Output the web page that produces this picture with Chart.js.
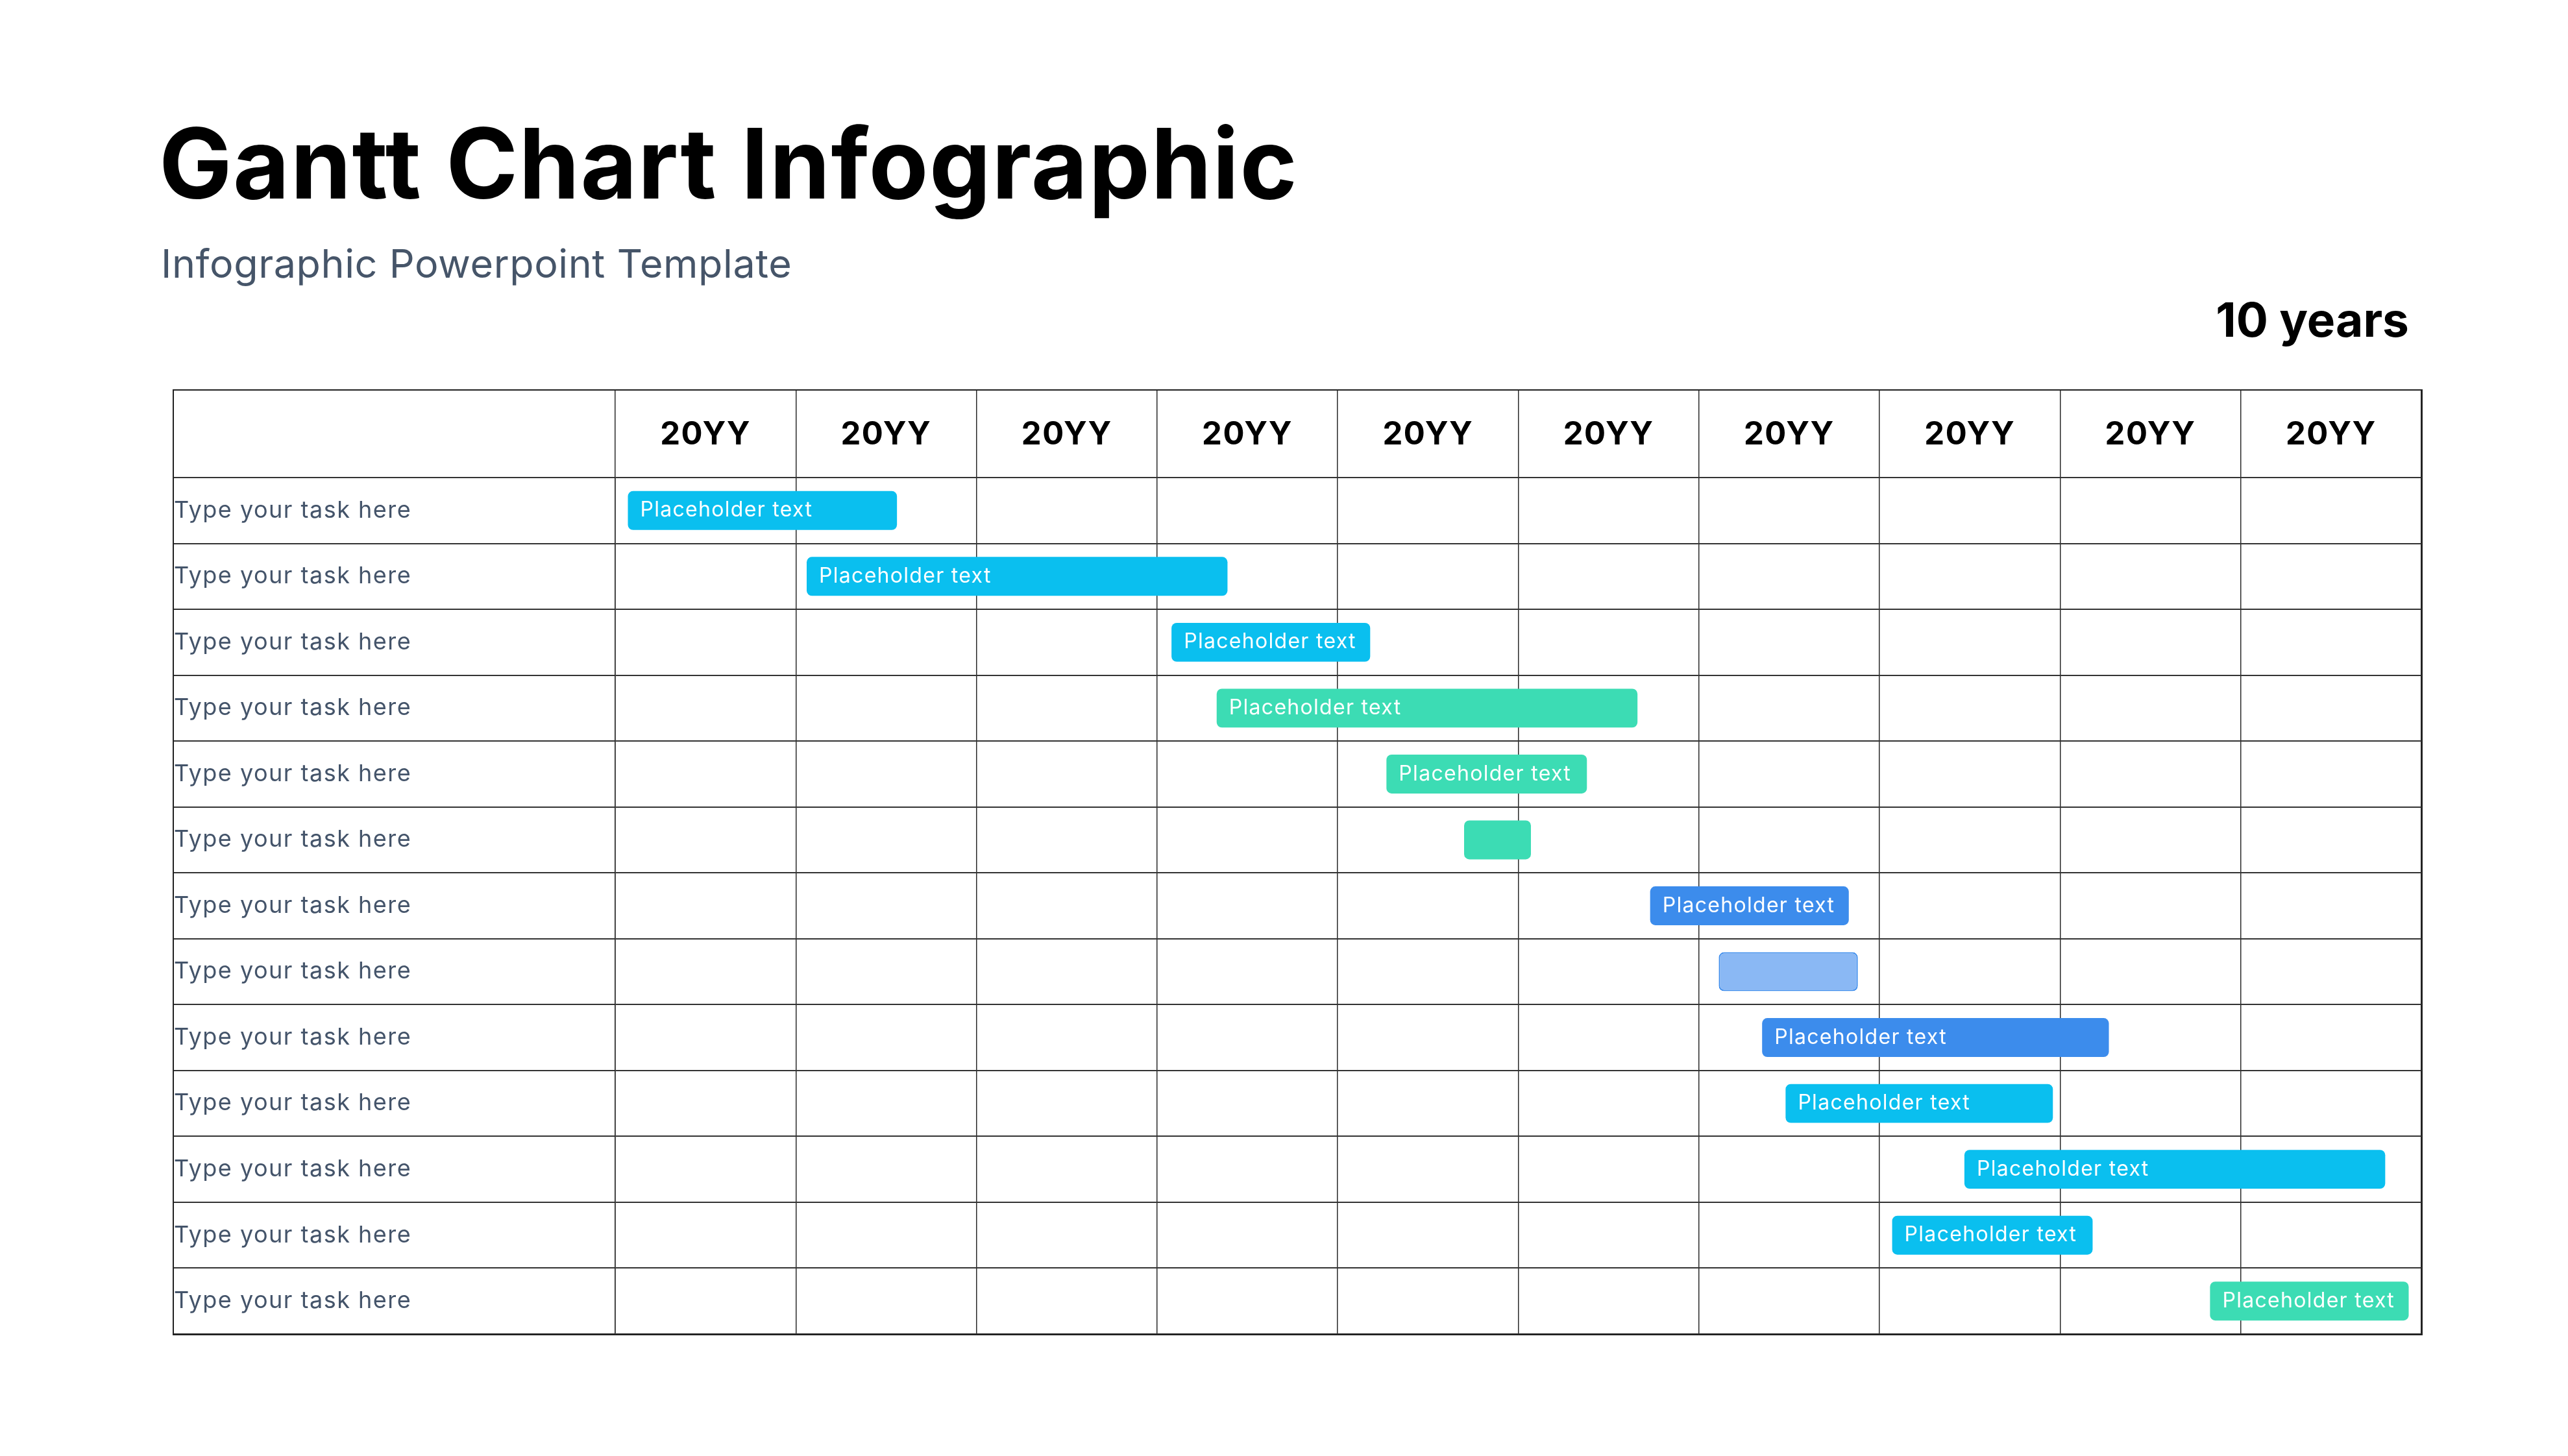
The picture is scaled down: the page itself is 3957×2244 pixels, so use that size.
<!DOCTYPE html>
<html>
<head>
<meta charset="utf-8">
<script src="https://cdn.jsdelivr.net/npm/chart.js@4/dist/chart.umd.min.js"></script>
<style>
  html, body { margin: 0; padding: 0; background: #fff; }
  body { width: 3957px; height: 2244px; position: relative; overflow: hidden; font-family: Inter, sans-serif; }
  .title { position: absolute; left: 245px; top: 177px; font-size: 150px; font-weight: 700; line-height: 1; letter-spacing: 1.5px; color: #000; white-space: nowrap; }
  .subtitle { position: absolute; left: 248px; top: 376px; font-size: 61px; font-weight: 400; line-height: 1; letter-spacing: 0.6px; color: #465569; white-space: nowrap; }
  .span-label { position: absolute; right: 245px; top: 456px; font-size: 73px; font-weight: 700; line-height: 1; color: #000; white-space: nowrap; }
  #wrap { position: absolute; left: 268px; top: 602px; width: 3463px; height: 1454px; outline: 2px solid #222; }
</style>
</head>
<body>
<div class="title">Gantt Chart Infographic</div>
<div class="subtitle">Infographic Powerpoint Template</div>
<div class="span-label">10 years</div>
<div id="wrap"><canvas id="gantt"></canvas></div>
<script>
"use strict";

// rows of the table
const taskLabels = [
  "Type your task here", "Type your task here", "Type your task here",
  "Type your task here", "Type your task here", "Type your task here",
  "Type your task here", "Type your task here", "Type your task here",
  "Type your task here", "Type your task here", "Type your task here",
  "Type your task here"
];

// header columns (one per year)
const yearLabels = ["20YY", "20YY", "20YY", "20YY", "20YY", "20YY", "20YY", "20YY", "20YY", "20YY"];

// task start / end, in years from the first column
const taskStarts = [0.07, 1.06, 3.08, 3.33, 4.27, 4.70, 5.73, 6.11, 6.35, 6.48, 7.47, 7.07, 8.83];
const taskEnds   = [1.56, 3.39, 4.18, 5.66, 5.38, 5.07, 6.83, 6.88, 8.27, 7.96, 9.80, 8.18, 9.93];

// text shown inside each bar
const barTexts = [
  "Placeholder text", "Placeholder text", "Placeholder text", "Placeholder text",
  "Placeholder text", "", "Placeholder text", "", "Placeholder text",
  "Placeholder text", "Placeholder text", "Placeholder text", "Placeholder text"
];

const CYAN = "#0abfef";
const TEAL = "#3cdcb4";
const BLUE = "#3c8cec";
const LIGHT = "#8ab8f4";

const barColors = [CYAN, CYAN, CYAN, TEAL, TEAL, TEAL, BLUE, LIGHT, BLUE, CYAN, CYAN, CYAN, TEAL];
const barBorders = barColors.map(c => (c === LIGHT ? BLUE : c));
const barBorderWidths = barColors.map(c => (c === LIGHT ? 2 : 0));

// a bit of tracking so Inter gets closer to the wide original face
const trackingPlugin = {
  id: "tracking",
  beforeDraw(chart) {
    chart.ctx.letterSpacing = "1.5px";
  }
};

// write the bar captions on top of the bars
const barTextPlugin = {
  id: "barText",
  afterDatasetsDraw(chart) {
    const ctx = chart.ctx;
    const meta = chart.getDatasetMeta(0);
    ctx.save();
    ctx.letterSpacing = "1.3px";
    ctx.font = "400 32px Inter";
    ctx.fillStyle = "#ffffff";
    ctx.textBaseline = "middle";
    ctx.textAlign = "left";
    meta.data.forEach((bar, i) => {
      const text = barTexts[i];
      if (!text) return;
      const left = Math.min(bar.x, bar.base);
      ctx.fillText(text, left + 19, bar.y);
    });
    ctx.restore();
  }
};

// the table is sized by hand, so drop the label padding chart.js asks for
function noPadding(s) {
  s.paddingTop = 0;
  s.paddingBottom = 0;
  s.paddingLeft = 0;
  s.paddingRight = 0;
}

const ganttCanvas = document.getElementById("gantt");

const ganttChart = new Chart(ganttCanvas, {
  type: "bar",
  data: {
    labels: taskLabels,
    datasets: [
      {
        data: taskStarts.map((s, i) => [s, taskEnds[i]]),
        backgroundColor: barColors,
        borderColor: barBorders,
        borderWidth: barBorderWidths,
        borderSkipped: false,
        borderRadius: 8,
        barPercentage: 0.59,
        categoryPercentage: 1,
        xAxisID: "x",
        yAxisID: "y",
      },
    ],
  },
  options: {
    indexAxis: "y",
    responsive: true,
    maintainAspectRatio: false,
    animation: false,
    layout: { padding: 0, autoPadding: false },
    plugins: {
      legend: { display: false },
      tooltip: { enabled: false },
    },
    scales: {
      x: {
        type: "linear",
        position: "bottom",
        min: 0,
        max: 10,
        ticks: { display: false, stepSize: 1 },
        grid: { color: "#2a2a2a", lineWidth: 1.5, drawTicks: false },
        border: { display: false },
        afterFit: (s) => { s.height = 0; noPadding(s); },
      },
      x2: {
        type: "category",
        labels: yearLabels,
        position: "top",
        offset: true,
        grid: { offset: true, drawOnChartArea: false, tickLength: 134, color: "#2a2a2a", lineWidth: 1.5 },
        border: { display: false },
        ticks: {
          font: { family: "Inter", weight: "700", size: 49 },
          color: "#000",
          padding: -98,
          maxRotation: 0,
          autoSkip: false,
        },
        afterFit: (s) => { s.height = 134; noPadding(s); },
      },
      y: {
        type: "category",
        position: "left",
        offset: true,
        grid: { offset: true, tickLength: 680, color: "#333", lineWidth: 2 },
        border: { display: true, color: "#2a2a2a", width: 1.5 },
        ticks: {
          crossAlign: "far",
          font: { family: "Inter", size: 36 },
          color: "#44546a",
          padding: 0,
          autoSkip: false,
        },
        afterFit: (s) => { s.width = 680; noPadding(s); },
      },
    },
  },
  plugins: [trackingPlugin, barTextPlugin],
});
</script>
</body>
</html>
